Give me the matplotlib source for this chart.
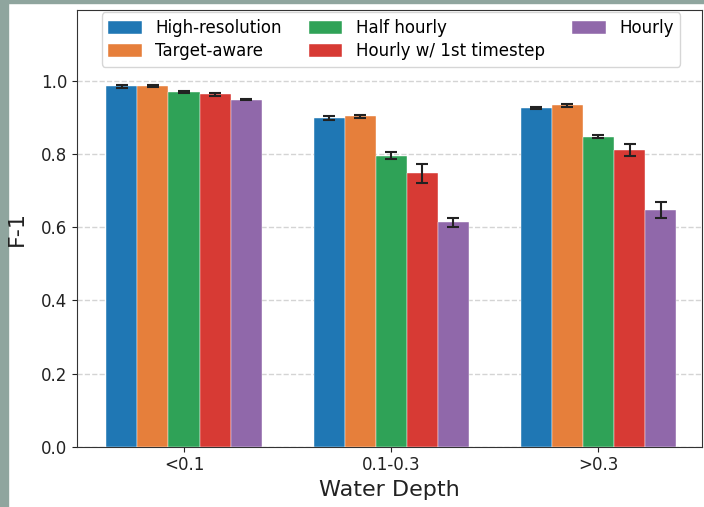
import numpy as np
import matplotlib
matplotlib.use("Agg")
import matplotlib.pyplot as plt
from matplotlib.patches import Rectangle

# F-1 scores per water depth bin
depths = ['<0.1', '0.1-0.3', '>0.3']
methods = ['High-resolution', 'Target-aware', 'Half hourly',
           'Hourly w/ 1st timestep', 'Hourly']

high_res = [0.985, 0.899, 0.926]
target_aware = [0.986, 0.903, 0.933]
half_hourly = [0.970, 0.796, 0.848]
hourly_first = [0.963, 0.748, 0.811]
hourly = [0.949, 0.613, 0.647]

high_res_err = [0.003, 0.005, 0.004]
target_aware_err = [0.002, 0.005, 0.003]
half_hourly_err = [0.003, 0.010, 0.005]
hourly_first_err = [0.005, 0.026, 0.016]
hourly_err = [0.002, 0.012, 0.021]

scores = [high_res, target_aware, half_hourly, hourly_first, hourly]
errors = [high_res_err, target_aware_err, half_hourly_err, hourly_first_err, hourly_err]
colors = ['#1f77b4', '#e67f3b', '#2fa257', '#d73a34', '#9068aa']

fig = plt.figure(figsize=(7.04, 5.07), dpi=100)
ax = fig.add_axes([0.1098, 0.119, 0.8874, 0.8613])

# screenshot frame on the left and top
fig.add_artist(Rectangle((0, 0), 8 / 704, 1, transform=fig.transFigure,
                         color='#8fa59e', zorder=-1))
fig.add_artist(Rectangle((0, 1 - 3 / 507), 1, 3 / 507, transform=fig.transFigure,
                         color='#8fa59e', zorder=-1))

x = np.arange(len(depths))
width = 0.15
for i in range(len(methods)):
    ax.bar(x + (i - 2) * width, scores[i], width, yerr=errors[i], color=colors[i],
           label=methods[i], capsize=4, edgecolor='white', linewidth=0.3,
           error_kw=dict(ecolor='#222222', elinewidth=1.5, capthick=1.5), zorder=3)

ax.set_xlim(-0.515, 2.5)
ax.set_ylim(0, 1.194)
ax.set_xticks(x)
ax.set_xticklabels(depths)
ax.set_yticks([0.0, 0.2, 0.4, 0.6, 0.8, 1.0])
ax.tick_params(labelsize=12, colors='#222222')
ax.grid(axis='y', linestyle='--', color='#d4d4d4', linewidth=1, zorder=0)
ax.set_xlabel('Water Depth', fontsize=16, color='#222222')
ax.set_ylabel('F-1', fontsize=16, color='#222222', labelpad=10)
for s in ax.spines.values():
    s.set_color('#333333')

ax.legend(ncol=3, fontsize=12, mode='expand', loc='lower left',
          bbox_to_anchor=(0.039, 0.87, 0.926, 0.11), borderaxespad=0,
          labelspacing=0.3, handlelength=2.0, handleheight=0.8)

fig.savefig('out.png', dpi=100)
